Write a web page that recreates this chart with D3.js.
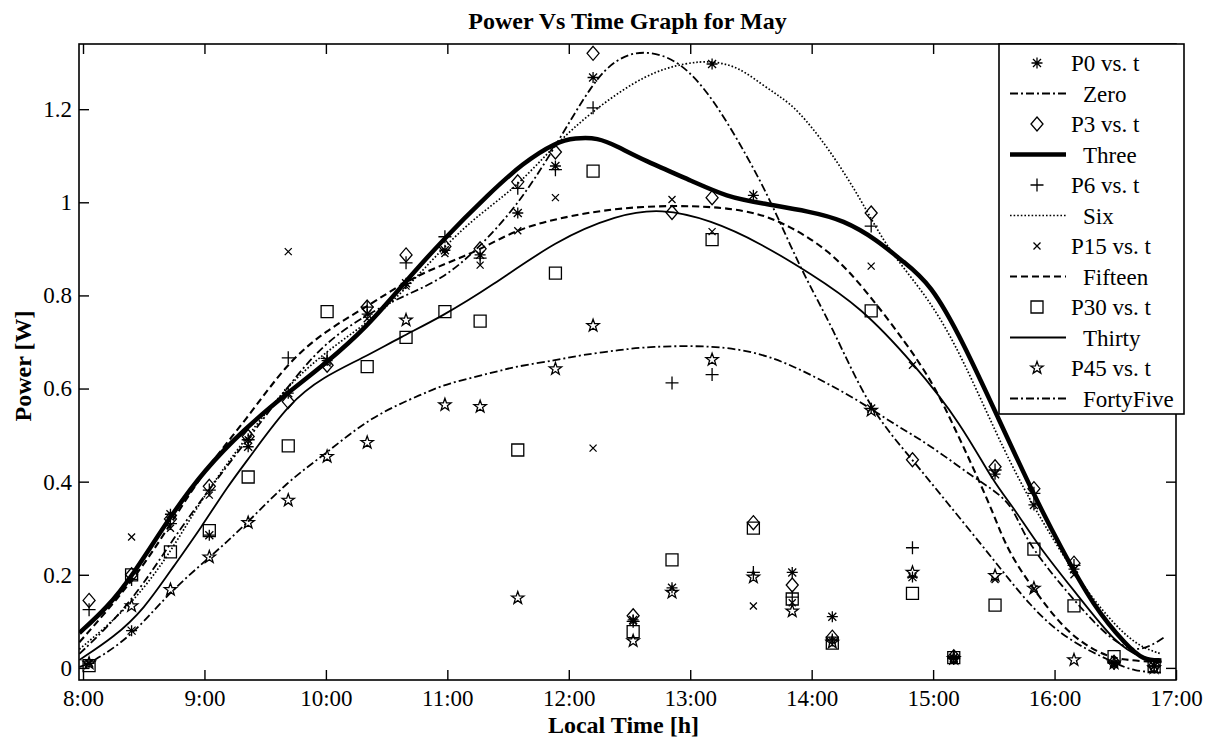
<!DOCTYPE html>
<html>
<head>
<meta charset="utf-8">
<script src="https://cdn.jsdelivr.net/npm/d3@7"></script>
<style>
  body { margin: 0; background: #fff; }
  text { font-family: "Liberation Serif", "Times New Roman", serif; fill: #000; }
</style>
</head>
<body>
<div id="chart"></div>
<script>
/**
 * CONSTANTS AND GLOBALS
 * */
const width = 1212,
  height = 740,
  margin = { top: 44, bottom: 60, left: 79, right: 36 };

// measurement times (decimal hours)
const times = [8.05, 8.40, 8.72, 9.04, 9.36, 9.69, 10.01, 10.34, 10.66, 10.98, 11.27, 11.58, 11.89, 12.20,
  12.53, 12.85, 13.18, 13.52, 13.84, 14.17, 14.49, 14.83, 15.17, 15.51, 15.83, 16.16, 16.49, 16.82];

// measured power per tilt angle [W]
const p0 = [0.01, 0.08, 0.33, 0.285, 0.475, 0.59, 0.66, 0.76, 0.826, 0.897, 0.887, 0.977, 1.078, 1.268,
  0.103, 0.172, 1.297, 1.015, 0.205, 0.11, 0.557, 0.195, 0.022, 0.416, 0.35, 0.212, 0.01, 0.004];
const p3 = [0.145, 0.2, 0.32, 0.39, 0.497, 0.572, 0.65, 0.775, 0.887, 0.905, 0.9, 1.044, 1.108, 1.32,
  0.112, 0.978, 1.01, 0.312, 0.178, 0.066, 0.977, 0.447, 0.024, 0.432, 0.385, 0.225, 0.012, 0.004];
const p6 = [0.125, 0.19, 0.31, 0.382, 0.49, 0.666, 0.665, 0.775, 0.87, 0.926, 0.88, 1.03, 1.07, 1.203,
  0.1, 0.612, 0.63, 0.205, 0.152, 0.06, 0.949, 0.258, 0.02, 0.425, 0.375, 0.22, 0.01, 0.004];
const p15 = [0.01, 0.281, 0.3, 0.371, 0.49, 0.894, 0.655, 0.75, 0.82, 0.89, 0.865, 0.939, 1.01, 0.472,
  0.1, 1.006, 0.937, 0.133, 0.14, 0.058, 0.863, 0.65, 0.02, 0.19, 0.17, 0.2, 0.008, 0.004];
const p30 = [0.005, 0.2, 0.249, 0.295, 0.41, 0.477, 0.765, 0.647, 0.71, 0.765, 0.745, 0.468, 0.848, 1.067,
  0.078, 0.232, 0.92, 0.3, 0.148, 0.053, 0.767, 0.16, 0.022, 0.135, 0.255, 0.133, 0.024, 0.003];
const p45 = [0.01, 0.133, 0.168, 0.238, 0.312, 0.36, 0.454, 0.484, 0.747, 0.565, 0.561, 0.15, 0.642, 0.735,
  0.058, 0.162, 0.662, 0.195, 0.122, 0.055, 0.553, 0.205, 0.02, 0.198, 0.171, 0.017, 0.01, 0.0];

// fitted curves as [hour, power]
const zeroFit = [[7.97, 0.03], [8.25, 0.1], [8.5, 0.18], [8.75, 0.28], [9.0, 0.37], [9.25, 0.455], [9.5, 0.54],
  [9.75, 0.625], [10.0, 0.7], [10.34, 0.76], [10.65, 0.8], [10.96, 0.835], [11.24, 0.897], [11.57, 0.99],
  [11.88, 1.115], [12.2, 1.26], [12.4, 1.31], [12.62, 1.328], [12.92, 1.305], [13.2, 1.219], [13.47, 1.098],
  [13.66, 1.005], [13.92, 0.85], [14.17, 0.733], [14.47, 0.557], [14.83, 0.447], [15.1, 0.36], [15.5, 0.232],
  [15.8, 0.132], [16.1, 0.06], [16.5, 0.01], [16.65, -0.007], [16.88, -0.01]];
const threeFit = [[7.97, 0.075], [8.2, 0.13], [8.4, 0.195], [8.73, 0.33], [9.0, 0.425], [9.32, 0.511],
  [9.68, 0.59], [10.0, 0.654], [10.34, 0.733], [10.62, 0.819], [10.96, 0.919], [11.35, 1.02], [11.62, 1.084],
  [11.9, 1.13], [12.05, 1.138], [12.24, 1.139], [12.4, 1.12], [12.62, 1.09], [13.03, 1.044], [13.3, 1.012],
  [13.58, 0.998], [13.99, 0.98], [14.26, 0.962], [14.54, 0.919], [14.74, 0.875], [14.98, 0.826], [15.25, 0.698],
  [15.53, 0.54], [15.85, 0.36], [16.05, 0.26], [16.32, 0.132], [16.6, 0.046], [16.73, 0.017], [16.88, 0.016]];
const sixFit = [[7.97, 0.04], [8.42, 0.139], [8.75, 0.26], [8.97, 0.36], [9.3, 0.48], [9.72, 0.62],
  [10.13, 0.704], [10.53, 0.776], [10.97, 0.905], [11.27, 0.976], [11.57, 1.033], [11.87, 1.119], [12.2, 1.198],
  [12.64, 1.277], [12.97, 1.3], [13.19, 1.304], [13.4, 1.29], [13.58, 1.255], [13.74, 1.227], [13.88, 1.2],
  [14.13, 1.12], [14.41, 1.005], [14.62, 0.9], [14.98, 0.79], [15.25, 0.661], [15.53, 0.497], [15.75, 0.382],
  [16.0, 0.27], [16.25, 0.17], [16.5, 0.09], [16.7, 0.045], [16.88, 0.03]];
const fifteenFit = [[7.97, 0.055], [8.42, 0.189], [8.69, 0.296], [9.0, 0.425], [9.35, 0.535], [9.68, 0.655],
  [10.0, 0.725], [10.34, 0.776], [10.67, 0.833], [10.99, 0.869], [11.26, 0.897], [11.56, 0.94], [11.89, 0.965],
  [12.42, 0.99], [13.05, 0.994], [13.46, 0.983], [13.73, 0.962], [14.14, 0.9], [14.45, 0.81], [14.78, 0.697],
  [15.0, 0.611], [15.16, 0.525], [15.33, 0.43], [15.5, 0.33], [15.62, 0.247], [15.87, 0.153], [16.11, 0.074],
  [16.36, 0.032], [16.54, 0.017], [16.88, 0.012]];
const thirtyFit = [[7.97, 0.017], [8.26, 0.067], [8.5, 0.125], [8.75, 0.22], [8.97, 0.3], [9.19, 0.39],
  [9.38, 0.455], [9.7, 0.57], [9.98, 0.625], [10.3, 0.665], [10.62, 0.711], [10.95, 0.754], [11.36, 0.819],
  [11.9, 0.919], [12.4, 0.973], [12.76, 0.987], [13.17, 0.962], [13.58, 0.912], [13.99, 0.847], [14.4, 0.776],
  [14.84, 0.654], [15.23, 0.525], [15.5, 0.397], [15.66, 0.346], [15.87, 0.26], [16.2, 0.153],
  [16.5, 0.053], [16.71, 0.021], [16.88, 0.014]];
const fortyFiveFit = [[7.97, 0.002], [8.06, 0.01], [8.4, 0.067], [8.7, 0.16], [9.05, 0.239], [9.35, 0.31],
  [9.68, 0.4], [10.0, 0.46], [10.37, 0.54], [10.81, 0.59], [11.0, 0.611], [11.36, 0.633], [11.55, 0.647],
  [11.9, 0.661], [12.1, 0.672], [12.43, 0.683], [12.65, 0.69], [13.2, 0.693], [13.58, 0.676], [13.86, 0.647],
  [14.13, 0.611], [14.4, 0.572], [14.67, 0.525], [14.9, 0.49], [15.1, 0.454], [15.33, 0.41], [15.5, 0.382],
  [15.66, 0.346], [15.76, 0.275], [16.06, 0.175], [16.4, 0.075], [16.6, 0.039], [16.75, 0.04], [16.9, 0.065]];

const xTicks = [8, 9, 10, 11, 12, 13, 14, 15, 16, 17];
const xTickLabels = ["8:00", "9:00", "10:00", "11:00", "12:00", "13:00", "14:00", "15:00", "16:00", "17:00"];
const yTicks = [0, 0.2, 0.4, 0.6, 0.8, 1, 1.2];

// legend order, same as the plot order
const legendLabels = ["P0 vs. t", "Zero", "P3 vs. t", "Three", "P6 vs. t", "Six",
  "P15 vs. t", "Fifteen", "P30 vs. t", "Thirty", "P45 vs. t", "FortyFive"];

/**
 * MARKER SHAPES (matlab style)
 * */
function markerPath(type) {
  if (type === "asterisk") {
    const s = 5.5, d = 4;
    return `M${-s},0L${s},0M0,${-s}L0,${s}M${-d},${-d}L${d},${d}M${-d},${d}L${d},${-d}`;
  }
  if (type === "diamond") return "M0,-7L6,0L0,7L-6,0Z";
  if (type === "plus") return "M-6.5,0L6.5,0M0,-6.5L0,6.5";
  if (type === "cross") return "M-3.5,-3.5L3.5,3.5M-3.5,3.5L3.5,-3.5";
  if (type === "square") return "M-6,-6H6V6H-6Z";
  // pentagram
  const pts = [];
  for (let i = 0; i < 10; i++) {
    const r = i % 2 === 0 ? 6.5 : 2.6;
    const a = -Math.PI / 2 + i * Math.PI / 5;
    pts.push([r * Math.cos(a), r * Math.sin(a)]);
  }
  return "M" + pts.map(p => p[0].toFixed(2) + "," + p[1].toFixed(2)).join("L") + "Z";
}

const series = [
  { values: p0, marker: "asterisk", fit: zeroFit, dash: "8,3,2,3", lw: 1.8 },
  { values: p3, marker: "diamond", fit: threeFit, dash: null, lw: 4.5 },
  { values: p6, marker: "plus", fit: sixFit, dash: "1.6,2", lw: 1.7 },
  { values: p15, marker: "cross", fit: fifteenFit, dash: "7,4", lw: 2.1 },
  { values: p30, marker: "square", fit: thirtyFit, dash: null, lw: 1.8 },
  { values: p45, marker: "star", fit: fortyFiveFit, dash: "8,3,2,3", lw: 1.8 },
];

/**
 * SCALES
 * */
const xScale = d3.scaleLinear()
  .domain([7.967, 17])
  .range([margin.left, width - margin.right]);

const yScale = d3.scaleLinear()
  .domain([-0.026, 1.34])
  .range([height - margin.bottom, margin.top]);

const svg = d3.select("#chart")
  .append("svg")
  .attr("width", width)
  .attr("height", height);

svg.append("rect").attr("width", width).attr("height", height).attr("fill", "#fff");

svg.append("clipPath")
  .attr("id", "plot-clip")
  .append("rect")
  .attr("x", margin.left)
  .attr("y", margin.top)
  .attr("width", width - margin.left - margin.right)
  .attr("height", height - margin.top - margin.bottom);

const plot = svg.append("g").attr("clip-path", "url(#plot-clip)");

// smooth fitted line through the read-off points
const lineFunc = d3.line()
  .x(d => xScale(d[0]))
  .y(d => yScale(d[1]))
  .curve(d3.curveBasis);

// markers then fitted line, one series after the other
series.forEach(s => {
  plot.append("g")
    .selectAll("path")
    .data(s.values.map((v, i) => [times[i], v]))
    .join("path")
    .attr("transform", d => `translate(${xScale(d[0])},${yScale(d[1])})`)
    .attr("d", markerPath(s.marker))
    .attr("fill", "none")
    .attr("stroke", "#000")
    .attr("stroke-width", 1.3);

  plot.append("path")
    .datum(s.fit)
    .attr("d", lineFunc)
    .attr("fill", "none")
    .attr("stroke", "#000")
    .attr("stroke-width", s.lw)
    .attr("stroke-dasharray", s.dash);
});

/**
 * AXES (box with inward ticks on all sides)
 * */
const x0 = margin.left, x1 = width - margin.right;
const y0 = height - margin.bottom, y1 = margin.top;

const xAxisBottom = d3.axisBottom(xScale).tickValues(xTicks).tickSize(-10).tickFormat((d, i) => xTickLabels[i]).tickPadding(10);
const xAxisTop = d3.axisTop(xScale).tickValues(xTicks).tickSize(-10).tickFormat("");
const yAxisLeft = d3.axisLeft(yScale).tickValues(yTicks).tickSize(-10).tickFormat(d3.format("~g")).tickPadding(7);
const yAxisRight = d3.axisRight(yScale).tickValues(yTicks).tickSize(-10).tickFormat("");

svg.append("g").attr("class", "axis").attr("transform", `translate(0,${y0})`).call(xAxisBottom);
svg.append("g").attr("class", "axis").attr("transform", `translate(0,${y1})`).call(xAxisTop);
svg.append("g").attr("class", "axis").attr("transform", `translate(${x0},0)`).call(yAxisLeft);
svg.append("g").attr("class", "axis").attr("transform", `translate(${x1},0)`).call(yAxisRight);

svg.selectAll(".axis path.domain").remove();
svg.selectAll(".axis line").attr("stroke", "#000").attr("stroke-width", 1.4);
svg.selectAll(".axis text").style("font-size", "23px").attr("fill", "#000");

svg.append("rect")
  .attr("x", x0).attr("y", y1)
  .attr("width", x1 - x0).attr("height", y0 - y1)
  .attr("fill", "none").attr("stroke", "#000").attr("stroke-width", 1.6);

// titles
svg.append("text")
  .attr("x", (x0 + x1) / 2).attr("y", 29)
  .attr("text-anchor", "middle")
  .style("font-size", "24px").style("font-weight", "bold")
  .text("Power Vs Time Graph for May");

svg.append("text")
  .attr("x", (x0 + x1) / 2 - 4).attr("y", 733)
  .attr("text-anchor", "middle")
  .style("font-size", "24px").style("font-weight", "bold")
  .text("Local Time [h]");

svg.append("text")
  .attr("transform", `translate(31,366) rotate(-90)`)
  .attr("text-anchor", "middle")
  .style("font-size", "24px").style("font-weight", "bold")
  .text("Power [W]");

/**
 * LEGEND
 * */
const legend = svg.append("g").attr("transform", "translate(999,44)");
legend.append("rect")
  .attr("width", 185).attr("height", 370)
  .attr("fill", "#fff").attr("stroke", "#000").attr("stroke-width", 1.6);

legendLabels.forEach((label, i) => {
  const s = series[Math.floor(i / 2)];
  const y = 19 + i * 30.5;
  const g = legend.append("g").attr("transform", `translate(0,${y})`);
  if (i % 2 === 0) {
    g.append("path")
      .attr("transform", "translate(38,0)")
      .attr("d", markerPath(s.marker))
      .attr("fill", "none").attr("stroke", "#000").attr("stroke-width", 1.3);
    g.append("text").attr("x", 72).attr("dy", "0.35em").style("font-size", "23px").text(label);
  } else {
    g.append("line")
      .attr("x1", 11).attr("x2", 67)
      .attr("stroke", "#000").attr("stroke-width", s.lw)
      .attr("stroke-dasharray", s.dash);
    g.append("text").attr("x", 84).attr("dy", "0.35em").style("font-size", "23px").text(label);
  }
});
</script>
</body>
</html>
